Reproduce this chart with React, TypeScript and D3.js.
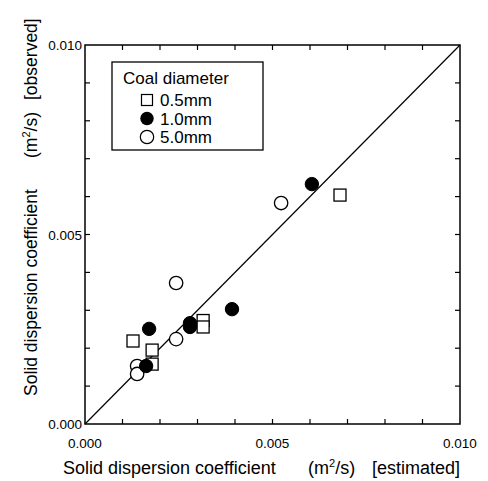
import React from "react";
import * as d3 from "d3";

const seriesLabels = ["0.5mm", "1.0mm", "5.0mm"];
const squareX = [0.00128, 0.00179, 0.00179, 0.00315, 0.00315, 0.0068];
const squareY = [0.00219, 0.00195, 0.00158, 0.00273, 0.00256, 0.00604];
const filledX = [0.00171, 0.00163, 0.0028, 0.0028, 0.00392, 0.00605];
const filledY = [0.00251, 0.00153, 0.00266, 0.00256, 0.00303, 0.00633];
const openX = [0.00243, 0.00243, 0.00139, 0.00139, 0.00523];
const openY = [0.00372, 0.00224, 0.00153, 0.00132, 0.00583];
const labelTicks = [0, 0.005, 0.01];
const minorTicks = d3.range(1, 10).map((i) => i * 0.001);

const W = 488, H = 481;
const L = 85, R = 460, T = 45, B = 424;
const FONT = "'Liberation Sans', Arial, Helvetica, sans-serif";

export default function App() {
  const x = d3.scaleLinear().domain([0, 0.01]).range([L, R]);
  const y = d3.scaleLinear().domain([0, 0.01]).range([B, T]);
  const tl = 5;
  const sq = 12;
  const cr = 6.7;
  return (
    <svg width={W} height={H} style={{ position: "absolute", left: 0, top: 0, background: "#fff" }}>
      <rect x={0} y={0} width={W} height={H} fill="#fff" />
      <line x1={x(0)} y1={y(0)} x2={x(0.01)} y2={y(0.01)} stroke="#000" strokeWidth={1.2} />
      <rect x={L} y={T} width={R - L} height={B - T} fill="none" stroke="#000" strokeWidth={1.5} />
      {minorTicks.map((t) => (
        <g key={t} stroke="#000" strokeWidth={1.2}>
          <line x1={x(t)} x2={x(t)} y1={B} y2={B - tl} />
          <line x1={x(t)} x2={x(t)} y1={T} y2={T + tl} />
          <line x1={L} x2={L + tl} y1={y(t)} y2={y(t)} />
          <line x1={R} x2={R - tl} y1={y(t)} y2={y(t)} />
        </g>
      ))}
      {labelTicks.map((t) => (
        <text key={"x" + t} x={x(t)} y={B + 24} textAnchor="middle" fontFamily={FONT} fontSize={13.5} fill="#000">
          {d3.format(".3f")(t)}
        </text>
      ))}
      {labelTicks.map((t) => (
        <text key={"y" + t} x={L - 3} y={y(t) + 5} textAnchor="end" fontFamily={FONT} fontSize={13.5} fill="#000">
          {d3.format(".3f")(t)}
        </text>
      ))}
      {/* x axis title */}
      <text y={474} fontFamily={FONT} fontSize={18} fill="#000">
        <tspan x={63}>Solid dispersion coefficient</tspan>
        <tspan x={308}>(m</tspan><tspan dy={-7} fontSize={11}>2</tspan><tspan dy={7}>/s)</tspan>
        <tspan x={372}>[estimated]</tspan>
      </text>
      {/* y axis title */}
      <g transform="translate(37,0) rotate(-90)">
        <text y={0} fontFamily={FONT} fontSize={17.5} fill="#000">
          <tspan x={-396}>Solid dispersion coefficient</tspan>
          <tspan x={-158}>(m</tspan><tspan dy={-7} fontSize={11}>2</tspan><tspan dy={7}>/s)</tspan>
          <tspan x={-100}>[observed]</tspan>
        </text>
      </g>
      {squareX.map((v, i) => (
        <rect key={"s" + i} x={x(v) - sq / 2} y={y(squareY[i]) - sq / 2} width={sq} height={sq} fill="#fff" stroke="#000" strokeWidth={1.3} />
      ))}
      {openX.map((v, i) => (
        <circle key={"o" + i} cx={x(v)} cy={y(openY[i])} r={cr} fill="#fff" stroke="#000" strokeWidth={1.3} />
      ))}
      {filledX.map((v, i) => (
        <circle key={"f" + i} cx={x(v)} cy={y(filledY[i])} r={cr} fill="#000" stroke="#000" strokeWidth={1} />
      ))}
      <rect x={112} y={62} width={151} height={88} fill="#fff" stroke="#000" strokeWidth={1.3} />
      <text x={123} y={84} fontFamily={FONT} fontSize={17} fill="#000">Coal diameter</text>
      <rect x={147 - 5.5} y={100 - 5.5} width={11} height={11} fill="#fff" stroke="#000" strokeWidth={1.2} />
      <circle cx={147} cy={118.5} r={6.7} fill="#000" />
      <circle cx={147} cy={137} r={6.7} fill="#fff" stroke="#000" strokeWidth={1.2} />
      {seriesLabels.map((s, i) => (
        <text key={s} x={160} y={106 + i * 18.5} fontFamily={FONT} fontSize={17} fill="#000">{s}</text>
      ))}
    </svg>
  );
}
